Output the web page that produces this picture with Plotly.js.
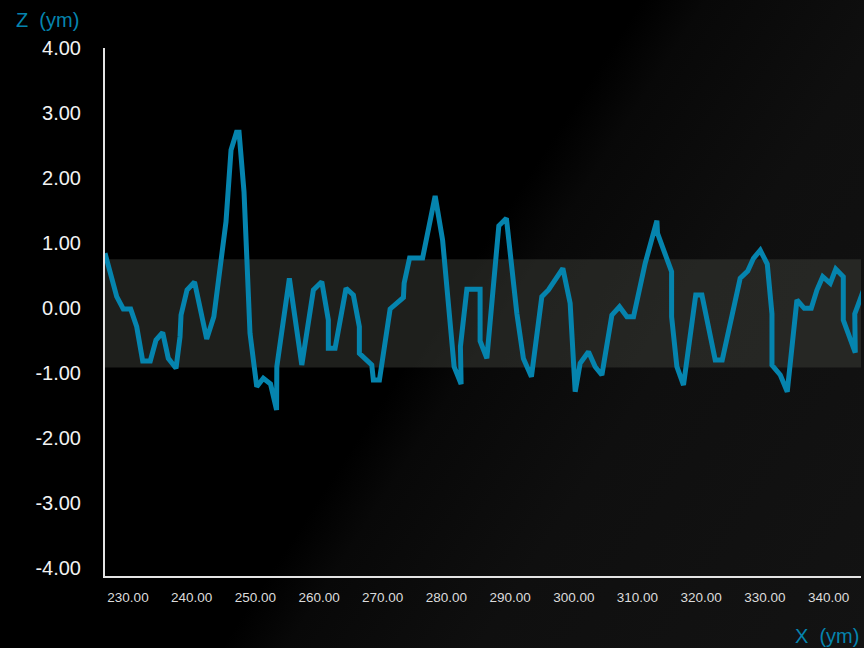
<!DOCTYPE html>
<html>
<head>
<meta charset="utf-8">
<script src="https://cdn.plot.ly/plotly-3.0.1.min.js"></script>
<style>
  html, body { margin: 0; padding: 0; }
  body {
    width: 864px; height: 648px; overflow: hidden;
    background: linear-gradient(123deg, #000 0%, #000 50%, #080808 55%, #0f0f0f 70%, #131313 100%);
  }
  #chart { width: 864px; height: 648px; }
</style>
</head>
<body>
<div id="chart"></div>
<script>
// Surface profile: position X (ym) and height Z (ym)
const profileX = [
  226.39, 228.23, 229.26, 230.42, 231.37, 232.31, 233.50, 234.40, 235.45, 236.33,
  237.54, 238.17, 238.33, 239.27, 240.45, 242.36, 243.48, 244.45, 245.39, 246.18,
  247.04, 247.44, 248.22, 249.16, 250.22, 251.25, 252.38, 253.33, 253.37, 255.34,
  257.29, 259.11, 260.43, 261.46, 261.46, 262.52, 264.24, 265.39, 266.33, 266.33,
  268.28, 268.53, 269.48, 271.16, 273.25, 273.36, 274.22, 276.26, 278.23, 279.40,
  281.21, 282.31, 282.20, 283.21, 285.29, 285.29, 286.35, 288.23, 289.42, 291.06,
  292.09, 293.35, 294.98, 296.02, 298.28, 299.43, 300.22, 301.00, 302.31, 303.36,
  304.41, 305.98, 307.18, 308.34, 309.38, 311.21, 313.05, 313.15, 315.36, 315.36,
  316.19, 317.23, 319.15, 320.12, 322.21, 323.31, 324.72, 326.13, 327.31, 328.22,
  329.28, 330.38, 331.12, 331.12, 332.43, 333.52, 335.04, 336.19, 337.29, 338.18,
  339.09, 340.27, 341.14, 342.32, 342.32, 344.20, 344.12, 345.60
];
const profileZ = [
   0.842,  0.174, -0.015, -0.015, -0.288, -0.815, -0.815, -0.492, -0.377, -0.774,
  -0.928, -0.442, -0.108,  0.277,  0.400, -0.477, -0.134,  0.585,  1.328,  2.431,
   2.705,  2.705,  1.785, -0.389, -1.211, -1.082, -1.169, -1.569, -0.903,  0.457,
  -0.877,  0.277,  0.405, -0.185, -0.620, -0.620,  0.303,  0.200, -0.288, -0.697,
  -0.877, -1.108, -1.108, -0.015,  0.162,  0.380,  0.769,  0.769,  1.723,  1.046,
  -0.903, -1.169, -0.595,  0.289,  0.289, -0.508, -0.774,  1.265,  1.380, -0.082,
  -0.777, -1.057,  0.174,  0.277,  0.611,  0.072, -1.288, -0.851, -0.672, -0.903,
  -1.031, -0.108,  0.020, -0.134, -0.134,  0.688,  1.343,  1.149,  0.558, -0.134,
  -0.903, -1.185,  0.200,  0.200, -0.800, -0.800, -0.134,  0.457,  0.569,  0.765,
   0.888,  0.677, -0.092, -0.877, -1.031, -1.288,  0.123, -0.005, -0.005,  0.277,
   0.482,  0.380,  0.600,  0.482, -0.185, -0.685, -0.092,  0.303
];

// Tolerance band (Z limits)
const bandLower = -0.915;
const bandUpper = 0.751;

// Axis ticks
const xTicks = [230, 240, 250, 260, 270, 280, 290, 300, 310, 320, 330, 340];
const yTicks = [-4, -3, -2, -1, 0, 1, 2, 3, 4];
const xRange = [226.39, 345.1];
const yRange = [-4.123, 4.0];

const accent = '#0584ae';
const sans = '"Liberation Sans", Arial, Helvetica, sans-serif';

const traces = [{
  type: 'scatter',
  mode: 'lines',
  x: profileX,
  y: profileZ,
  line: { color: accent, width: 5 },
  hoverinfo: 'skip'
}];

const layout = {
  width: 864,
  height: 648,
  margin: { l: 105, r: 3, t: 48, b: 72, pad: 0 },
  paper_bgcolor: 'rgba(0,0,0,0)',
  plot_bgcolor: 'rgba(0,0,0,0)',
  showlegend: false,
  font: { family: sans, color: '#eeeeee' },
  xaxis: {
    range: xRange,
    tickvals: xTicks,
    ticktext: xTicks.map(v => v.toFixed(2)),
    ticks: '',
    ticklabelstandoff: 8,
    showgrid: false,
    zeroline: false,
    showline: true,
    linecolor: '#e4e4e4',
    linewidth: 2,
    tickfont: { family: sans, size: 13.5, color: '#dcdcdc' },
    fixedrange: true
  },
  yaxis: {
    range: yRange,
    tickvals: yTicks,
    ticktext: yTicks.map(v => v.toFixed(2)),
    ticks: '',
    ticklabelstandoff: 18,
    showgrid: false,
    zeroline: false,
    showline: true,
    linecolor: '#e4e4e4',
    linewidth: 2,
    tickfont: { family: sans, size: 20, color: '#f2f2f2' },
    fixedrange: true
  },
  shapes: [{
    type: 'rect',
    xref: 'paper', yref: 'y',
    x0: 0, x1: 1,
    y0: bandLower, y1: bandUpper,
    fillcolor: 'rgba(60,62,55,0.5)',
    line: { width: 0 },
    layer: 'below'
  }],
  annotations: [
    {
      text: 'Z\u00a0\u00a0(ym)',
      xref: 'paper', yref: 'paper',
      x: -0.12, y: 1.053,
      xanchor: 'left', yanchor: 'middle',
      showarrow: false,
      font: { family: sans, size: 20, color: accent }
    },
    {
      text: 'X\u00a0\u00a0(ym)',
      xref: 'paper', yref: 'paper',
      x: 1.0, y: -0.114,
      xanchor: 'right', yanchor: 'middle',
      showarrow: false,
      font: { family: sans, size: 20, color: accent }
    }
  ]
};

Plotly.newPlot('chart', traces, layout, { staticPlot: true, displayModeBar: false });
</script>
</body>
</html>
